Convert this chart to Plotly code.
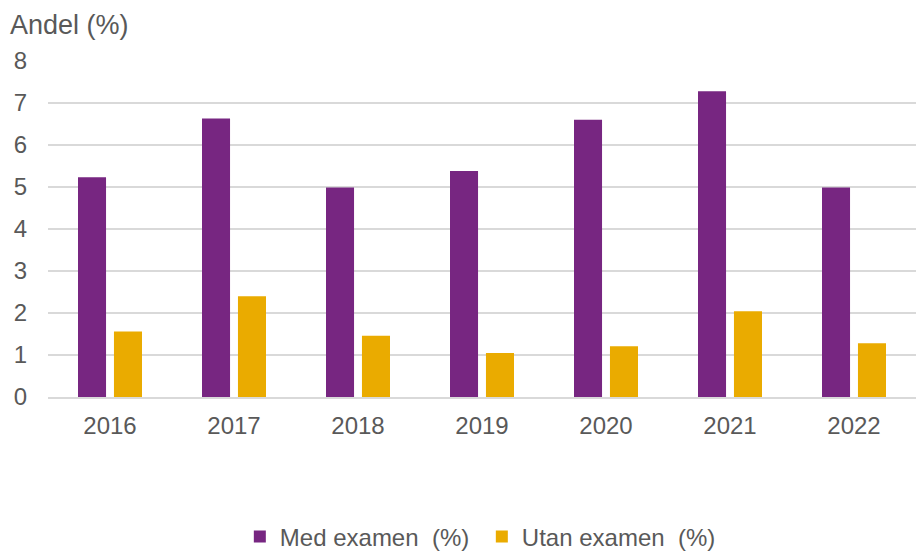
import plotly.graph_objects as go

years = ["2016", "2017", "2018", "2019", "2020", "2021", "2022"]
med_examen = [5.23, 6.63, 4.99, 5.38, 6.60, 7.28, 4.99]
utan_examen = [1.56, 2.40, 1.46, 1.05, 1.21, 2.04, 1.28]
y_ticks = [0, 1, 2, 3, 4, 5, 6, 7, 8]

FONT = "Liberation Sans, Arial, sans-serif"
TXT = "#595959"

fig = go.Figure()
fig.add_trace(go.Bar(x=years, y=med_examen, name="Med examen  (%)",
                     marker=dict(color="#772681", line=dict(width=0))))
fig.add_trace(go.Bar(x=years, y=utan_examen, name="Utan examen  (%)",
                     marker=dict(color="#EAAB00", line=dict(width=0))))

fig.update_layout(
    width=918, height=551,
    margin=dict(l=48, r=2, t=61, b=154, autoexpand=False),
    paper_bgcolor="white", plot_bgcolor="white",
    barmode="group", bargap=0.42, bargroupgap=0.22,
    font=dict(family=FONT, size=24, color=TXT),
    showlegend=True,
    title=dict(text="Andel (%)", xref="container", yref="container",
               x=10 / 918, y=1 - 25 / 551, xanchor="left", yanchor="middle",
               font=dict(size=27, color=TXT)),
    legend=dict(orientation="h", x=0.221, xanchor="left", y=-0.416, yanchor="middle",
                font=dict(size=24, color=TXT), itemsizing="constant",
                traceorder="normal", itemwidth=30,
                entrywidth=197, entrywidthmode="pixels"),
    xaxis=dict(showgrid=False, showline=True, linecolor="#D9D9D9", linewidth=2,
               ticks="", automargin=False, ticklabelstandoff=6,
               tickfont=dict(size=24, color=TXT)),
    yaxis=dict(range=[0, 8], tickvals=y_ticks, showgrid=True, gridcolor="#D9D9D9",
               gridwidth=2, zeroline=False, showline=False, ticks="",
               automargin=False, ticklabelstandoff=20,
               tickfont=dict(size=24, color=TXT)),
)

fig.write_html("out.html", config={"displayModeBar": False},
               post_script="document.body.style.margin='0';document.body.style.padding='0';")
